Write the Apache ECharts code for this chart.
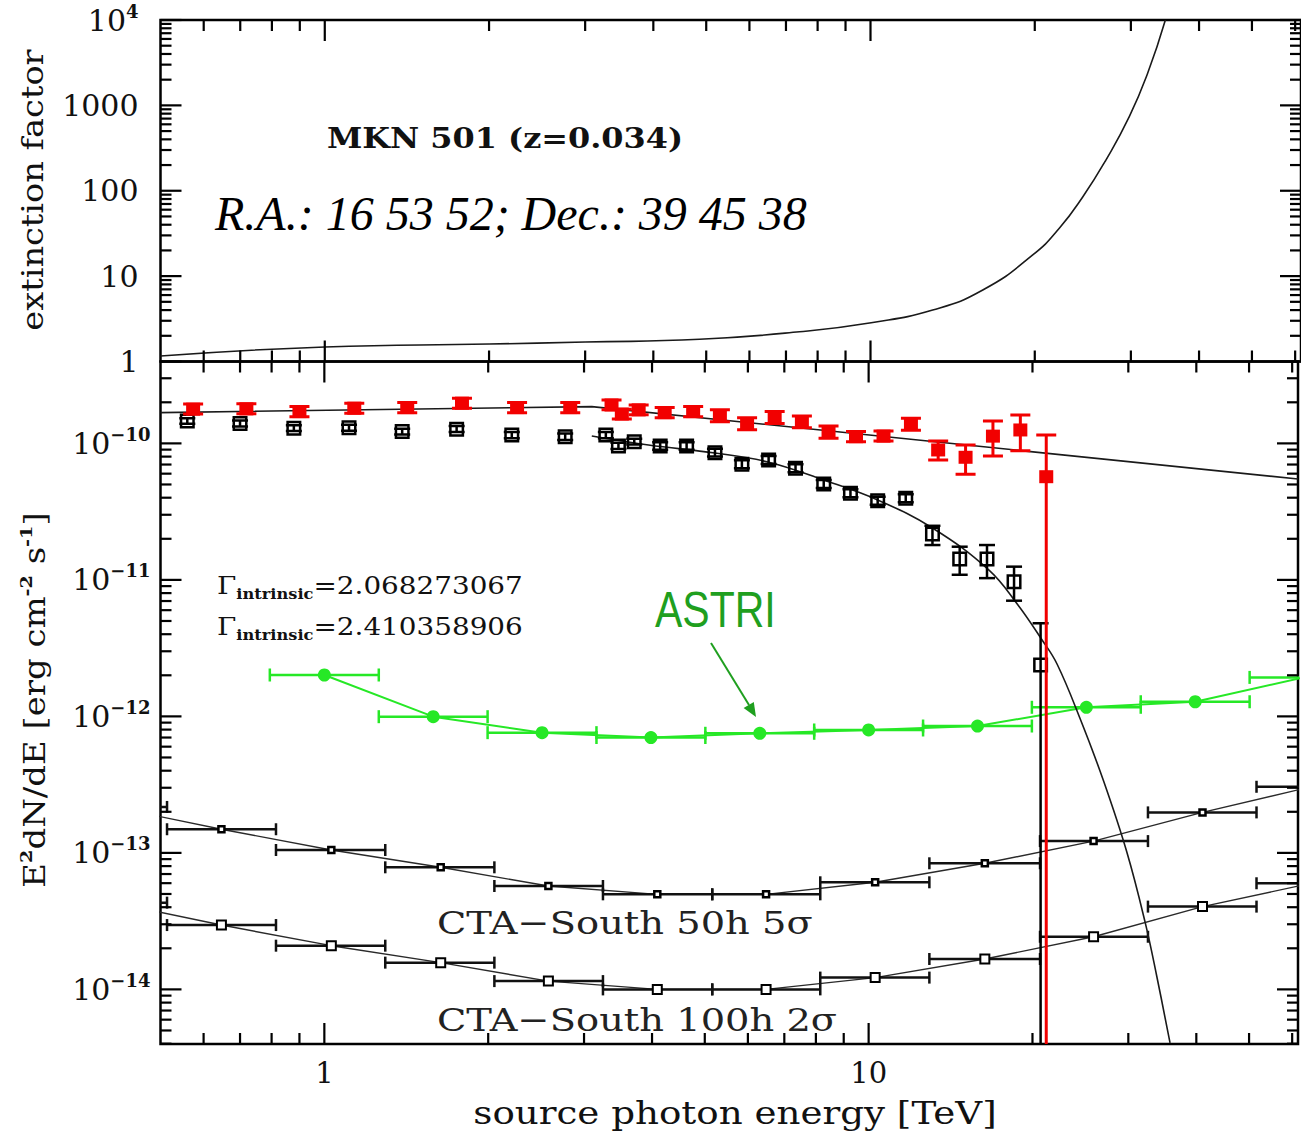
<!DOCTYPE html>
<html>
<head>
<meta charset="utf-8">
<script src="https://cdn.jsdelivr.net/npm/echarts@6/dist/echarts.min.js"></script>
<style>
  html, body { margin: 0; padding: 0; background: #fff; }
  #chart { width: 1301px; height: 1136px; }
</style>
</head>
<body>
<div id="chart"></div>
<script>
// ---------------- axis ranges and tick labels ----------------
const energyRange = [0.5, 61.5];            // TeV
const extinctionRange = [1, 1e4];
const fluxRange = [3.98e-15, 3.98e-10];     // erg cm^-2 s^-1

const energyMajor = [1, 10];
const energyLabels = ['1', '10'];
const extMajor = [1, 10, 100, 1000, 10000];
const extLabelBase = ['1', '10', '100', '1000', '10'];
const extLabelExp = ['', '', '', '', '4'];
const fluxMajor = [1e-14, 1e-13, 1e-12, 1e-11, 1e-10];
const fluxLabelBase = ['10', '10', '10', '10', '10'];
const fluxLabelExp = ['\u221214', '\u221213', '\u221212', '\u221211', '\u221210'];

// ---------------- top panel: EBL extinction factor ----------------
const extEnergy = [0.5, 1, 2, 3, 4.86, 7.41, 10.03, 13.0, 16.06, 19.83, 22.2, 24.5, 27.0, 29.8, 32.2, 34.7];
const extFactor = [1.16, 1.48, 1.60, 1.69, 1.82, 2.23, 2.85, 4.01, 6.88, 17.7, 36.6, 85.2, 229, 737, 2375, 10000];

// ---------------- intrinsic (de-absorbed) spectrum, red ----------------
const intrE  = [0.574, 0.719, 0.90, 1.135, 1.42, 1.79, 2.26, 2.83, 3.37, 3.52, 3.78, 4.22, 4.76, 5.33, 5.98, 6.72, 7.54, 8.44, 9.48, 10.65, 11.96, 13.42, 15.07, 16.92, 19.0, 21.2];
const intrF  = [1.78e-10, 1.79e-10, 1.71e-10, 1.81e-10, 1.83e-10, 1.97e-10, 1.83e-10, 1.83e-10, 1.91e-10, 1.64e-10, 1.76e-10, 1.68e-10, 1.71e-10, 1.59e-10, 1.39e-10, 1.55e-10, 1.44e-10, 1.21e-10, 1.12e-10, 1.13e-10, 1.38e-10, 8.95e-11, 7.91e-11, 1.13e-10, 1.254e-10, 5.70e-11];
const intrLo = [1.64e-10, 1.65e-10, 1.57e-10, 1.66e-10, 1.68e-10, 1.81e-10, 1.68e-10, 1.68e-10, 1.76e-10, 1.51e-10, 1.62e-10, 1.54e-10, 1.57e-10, 1.44e-10, 1.26e-10, 1.40e-10, 1.30e-10, 1.09e-10, 1.03e-10, 1.04e-10, 1.25e-10, 7.55e-11, 5.94e-11, 8.09e-11, 8.84e-11, 1e-16];
const intrHi = [1.94e-10, 1.95e-10, 1.86e-10, 1.97e-10, 1.99e-10, 2.14e-10, 1.99e-10, 1.99e-10, 2.08e-10, 1.78e-10, 1.91e-10, 1.83e-10, 1.86e-10, 1.76e-10, 1.54e-10, 1.71e-10, 1.59e-10, 1.34e-10, 1.22e-10, 1.23e-10, 1.53e-10, 1.041e-10, 9.73e-11, 1.459e-10, 1.615e-10, 1.152e-10];

// ---------------- observed spectrum, black open squares ----------------
const obsE  = [0.560, 0.70, 0.879, 1.11, 1.39, 1.75, 2.21, 2.77, 3.29, 3.47, 3.71, 4.14, 4.63, 5.22, 5.85, 6.55, 7.34, 8.27, 9.26, 10.39, 11.7, 13.1, 14.7, 16.5, 18.5, 20.7];
const obsF  = [1.46e-10, 1.40e-10, 1.29e-10, 1.30e-10, 1.22e-10, 1.27e-10, 1.15e-10, 1.12e-10, 1.15e-10, 9.57e-11, 1.03e-10, 9.57e-11, 9.57e-11, 8.55e-11, 7.03e-11, 7.55e-11, 6.57e-11, 5.04e-11, 4.31e-11, 3.80e-11, 3.96e-11, 2.17e-11, 1.42e-11, 1.42e-11, 9.70e-12, 2.38e-12];
const obsLo = [1.39e-10, 1.33e-10, 1.23e-10, 1.24e-10, 1.16e-10, 1.21e-10, 1.09e-10, 1.06e-10, 1.09e-10, 9.10e-11, 9.80e-11, 9.00e-11, 9.00e-11, 8.00e-11, 6.57e-11, 7.06e-11, 6.14e-11, 4.71e-11, 4.03e-11, 3.55e-11, 3.70e-11, 1.80e-11, 1.09e-11, 1.03e-11, 7.04e-12, 1e-16];
const obsHi = [1.53e-10, 1.47e-10, 1.36e-10, 1.37e-10, 1.28e-10, 1.34e-10, 1.21e-10, 1.18e-10, 1.21e-10, 1.01e-10, 1.08e-10, 1.02e-10, 1.02e-10, 9.15e-11, 7.52e-11, 8.08e-11, 7.03e-11, 5.39e-11, 4.61e-11, 4.07e-11, 4.24e-11, 2.49e-11, 1.75e-11, 1.80e-11, 1.25e-11, 4.81e-12];

// ---------------- spectral fits ----------------
const fitIntrE = [0.5, 3.1, 61.5];
const fitIntrF = [1.68e-10, 1.86e-10, 5.48e-11];
const fitObsE = [3.10, 3.94, 5.22, 6.53, 8.27, 10.39, 13.10, 16.64, 18.75, 20.83, 22.19, 24.48, 27.02, 29.81, 32.20, 33.83, 35.79];
const fitObsF = [1.133e-10, 9.73e-11, 8.50e-11, 7.31e-11, 5.39e-11, 3.85e-11, 2.40e-11, 1.18e-11, 6.66e-12, 3.63e-12, 2.42e-12, 9.57e-13, 3.36e-13, 1.015e-13, 3.12e-14, 1.253e-14, 4.05e-15];

// ---------------- ASTRI sensitivity ----------------
const astriE  = [1.0, 1.585, 2.512, 3.981, 6.31, 10.0, 15.85, 25.12, 39.81, 63.1];
const astriLo = [0.794, 1.259, 1.995, 3.162, 5.012, 7.943, 12.59, 19.95, 31.62, 50.12];
const astriHi = [1.259, 1.995, 3.162, 5.012, 7.943, 12.59, 19.95, 31.62, 50.12, 79.43];
const astriF  = [2.01e-12, 9.95e-13, 7.60e-13, 7.00e-13, 7.52e-13, 7.95e-13, 8.50e-13, 1.166e-12, 1.28e-12, 1.93e-12];

// ---------------- CTA-South sensitivities ----------------
const ctaE  = [0.41, 0.647, 1.03, 1.636, 2.58, 4.09, 6.48, 10.28, 16.35, 25.9, 41.06, 65.0];
const ctaLo = [0.324, 0.514, 0.815, 1.294, 2.053, 3.25, 5.16, 8.15, 12.93, 20.65, 32.6, 51.6];
const ctaHi = [0.514, 0.815, 1.294, 2.053, 3.25, 5.16, 8.15, 12.93, 20.65, 32.6, 51.6, 81.8];
const cta50F  = [2.17e-13, 1.49e-13, 1.05e-13, 7.84e-14, 5.72e-14, 4.97e-14, 4.97e-14, 6.09e-14, 8.39e-14, 1.22e-13, 1.98e-13, 3.05e-13];
const cta100F = [4.32e-14, 2.96e-14, 2.09e-14, 1.57e-14, 1.15e-14, 1.00e-14, 1.00e-14, 1.22e-14, 1.67e-14, 2.43e-14, 4.04e-14, 5.99e-14];

// ---------------- helpers ----------------
const SERIF = 'DejaVu Serif';
const RED = '#f20000';
const GREEN = '#26e826';
const DARKGREEN = '#1f9f1f';

function zip(xs, ys) { return xs.map((x, i) => [x, ys[i]]); }

function matchTick(v, ticks) {
  const lv = Math.log10(v);
  for (let i = 0; i < ticks.length; i++) {
    if (Math.abs(lv - Math.log10(ticks[i])) < 1e-6) return i;
  }
  return -1;
}

// 2..9 x 10^k tick positions strictly inside a range
function minorTicks(range) {
  const out = [];
  for (let d = Math.floor(Math.log10(range[0])); d <= Math.ceil(Math.log10(range[1])); d++) {
    for (let m = 2; m <= 9; m++) {
      const v = m * Math.pow(10, d);
      if (v > range[0] * 1.0001 && v < range[1] / 1.0001) out.push(v);
    }
  }
  return out;
}

// tick marks drawn inward on both opposite frame edges of a panel
function tickSeries(gridIdx, values, dir, len, ref) {
  return {
    type: 'custom', xAxisIndex: gridIdx, yAxisIndex: gridIdx, silent: true, clip: false, z: 20,
    data: values.map(v => dir === 'x' ? [v, ref] : [ref, v]),
    renderItem: function (params, api) {
      const cs = params.coordSys;
      const p = api.coord([api.value(0), api.value(1)]);
      const st = { stroke: '#000', lineWidth: 2.2 };
      if (dir === 'x') {
        return { type: 'group', children: [
          { type: 'line', shape: { x1: p[0], y1: cs.y, x2: p[0], y2: cs.y + len }, style: st },
          { type: 'line', shape: { x1: p[0], y1: cs.y + cs.height, x2: p[0], y2: cs.y + cs.height - len }, style: st }
        ] };
      }
      return { type: 'group', children: [
        { type: 'line', shape: { x1: cs.x, y1: p[1], x2: cs.x + len, y2: p[1] }, style: st },
        { type: 'line', shape: { x1: cs.x + cs.width, y1: p[1], x2: cs.x + cs.width - len, y2: p[1] }, style: st }
      ] };
    }
  };
}

// vertical error bars with caps
function vErrSeries(E, F, lo, hi, color, capW, lw, z) {
  return {
    type: 'custom', xAxisIndex: 1, yAxisIndex: 1, clip: true, silent: true, z: z,
    data: E.map((e, i) => [e, F[i], lo[i], hi[i]]),
    renderItem: function (params, api) {
      const x = api.coord([api.value(0), api.value(1)])[0];
      const yl = api.coord([api.value(0), api.value(2)])[1];
      const yh = api.coord([api.value(0), api.value(3)])[1];
      const st = { stroke: color, lineWidth: lw };
      return { type: 'group', children: [
        { type: 'line', shape: { x1: x, y1: yl, x2: x, y2: yh }, style: st },
        { type: 'line', shape: { x1: x - capW / 2, y1: yl, x2: x + capW / 2, y2: yl }, style: st },
        { type: 'line', shape: { x1: x - capW / 2, y1: yh, x2: x + capW / 2, y2: yh }, style: st }
      ] };
    }
  };
}

// horizontal energy-bin bars with end caps
function hBinSeries(E, F, lo, hi, color, capH, lw, z) {
  return {
    type: 'custom', xAxisIndex: 1, yAxisIndex: 1, clip: true, silent: true, z: z,
    data: E.map((e, i) => [e, F[i], lo[i], hi[i]]),
    renderItem: function (params, api) {
      const y = api.coord([api.value(0), api.value(1)])[1];
      const xl = api.coord([api.value(2), api.value(1)])[0];
      const xh = api.coord([api.value(3), api.value(1)])[0];
      const st = { stroke: color, lineWidth: lw };
      return { type: 'group', children: [
        { type: 'line', shape: { x1: xl, y1: y, x2: xh, y2: y }, style: st },
        { type: 'line', shape: { x1: xl, y1: y - capH / 2, x2: xl, y2: y + capH / 2 }, style: st },
        { type: 'line', shape: { x1: xh, y1: y - capH / 2, x2: xh, y2: y + capH / 2 }, style: st }
      ] };
    }
  };
}

function lineSeries(gridIdx, xs, ys, color, width, smooth, z) {
  return {
    type: 'line', xAxisIndex: gridIdx, yAxisIndex: gridIdx, data: zip(xs, ys),
    showSymbol: false, symbol: 'none', smooth: smooth, clip: true, silent: true, z: z,
    lineStyle: { color: color, width: width }
  };
}

function markerSeries(xs, ys, symbol, size, fill, border, borderW, z) {
  return {
    type: 'scatter', xAxisIndex: 1, yAxisIndex: 1, data: zip(xs, ys), symbol: symbol, symbolSize: size,
    clip: true, silent: true, z: z,
    itemStyle: { color: fill, borderColor: border, borderWidth: borderW, opacity: 1 }
  };
}

const hiddenAxis = {
  axisLine: { show: false }, axisTick: { show: false }, splitLine: { show: false }, minorTick: { show: false }
};

const supRich = {
  b: { fontFamily: SERIF, fontSize: 30, color: '#111', lineHeight: 36 },
  s: { fontFamily: SERIF, fontSize: 18, fontWeight: 'bold', color: '#111', verticalAlign: 'top', lineHeight: 18 }
};

function richLabel(base, exp) {
  return '{b|' + base + '}' + (exp ? '{s|' + exp + '}' : '');
}

// ---------------- chart ----------------
const chart = echarts.init(document.getElementById('chart'), null, { renderer: 'svg', width: 1301, height: 1136 });

const gammaRich = {
  g: { fontFamily: SERIF, fontSize: 24, fill: '#111', color: '#111', lineHeight: 30 },
  i: { fontFamily: SERIF, fontSize: 14, fontWeight: 'bold', fill: '#111', color: '#111', verticalAlign: 'bottom', lineHeight: 14 }
};

const option = {
  animation: false,
  backgroundColor: '#ffffff',
  grid: [
    { left: 160.5, top: 20, width: 1141, height: 341.5, show: true, borderColor: '#000', borderWidth: 2.5, backgroundColor: 'transparent' },
    { left: 160.5, top: 361.5, width: 1141, height: 682.5, show: true, borderColor: '#000', borderWidth: 2.5, backgroundColor: 'transparent' }
  ],
  xAxis: [
    Object.assign({ type: 'log', gridIndex: 0, min: energyRange[0], max: energyRange[1], axisLabel: { show: false } }, hiddenAxis),
    Object.assign({ type: 'log', gridIndex: 1, min: energyRange[0], max: energyRange[1],
      axisLabel: {
        show: true, margin: 14, fontFamily: SERIF, fontSize: 29, color: '#111',
        formatter: function (v) { const i = matchTick(v, energyMajor); return i < 0 ? '' : energyLabels[i]; }
      } }, hiddenAxis)
  ],
  yAxis: [
    Object.assign({ type: 'log', gridIndex: 0, min: extinctionRange[0], max: extinctionRange[1],
      axisLabel: {
        show: true, margin: 22, rich: supRich,
        formatter: function (v) { const i = matchTick(v, extMajor); return i < 0 ? '' : richLabel(extLabelBase[i], extLabelExp[i]); }
      } }, hiddenAxis),
    Object.assign({ type: 'log', gridIndex: 1, min: fluxRange[0], max: fluxRange[1],
      axisLabel: {
        show: true, margin: 10, rich: supRich,
        formatter: function (v) { const i = matchTick(v, fluxMajor); return i < 0 ? '' : richLabel(fluxLabelBase[i], fluxLabelExp[i]); }
      } }, hiddenAxis)
  ],
  series: [
    // frame ticks
    tickSeries(0, energyMajor, 'x', 21, 10),
    tickSeries(0, minorTicks(energyRange), 'x', 11, 10),
    tickSeries(0, extMajor, 'y', 21, 1),
    tickSeries(0, minorTicks(extinctionRange), 'y', 11, 1),
    tickSeries(1, energyMajor, 'x', 21, 1e-12),
    tickSeries(1, minorTicks(energyRange), 'x', 11, 1e-12),
    tickSeries(1, fluxMajor, 'y', 21, 1),
    tickSeries(1, minorTicks(fluxRange), 'y', 11, 1),

    // extinction factor
    lineSeries(0, extEnergy, extFactor, '#1a1a1a', 1.6, 0.5, 5),

    // CTA-South 50h 5 sigma
    lineSeries(1, ctaE, cta50F, '#2a2a2a', 1.4, false, 3),
    hBinSeries(ctaE, cta50F, ctaLo, ctaHi, '#111', 12, 2.5, 4),
    markerSeries(ctaE, cta50F, 'rect', 6, '#fff', '#000', 2.5, 6),
    // CTA-South 100h 2 sigma
    lineSeries(1, ctaE, cta100F, '#2a2a2a', 1.4, false, 3),
    hBinSeries(ctaE, cta100F, ctaLo, ctaHi, '#111', 12, 2.5, 4),
    markerSeries(ctaE, cta100F, 'rect', 9, '#fff', '#000', 2, 6),

    // ASTRI
    lineSeries(1, astriE, astriF, GREEN, 2, false, 7),
    hBinSeries(astriE, astriF, astriLo, astriHi, GREEN, 13, 2.5, 7),
    markerSeries(astriE, astriF, 'circle', 13, GREEN, GREEN, 0, 8),

    // fits
    lineSeries(1, fitIntrE, fitIntrF, '#1a1a1a', 1.6, false, 9),
    lineSeries(1, fitObsE, fitObsF, '#1a1a1a', 1.6, 0.4, 9),

    // observed points
    vErrSeries(obsE, obsF, obsLo, obsHi, '#000', 16, 2.5, 10),
    markerSeries(obsE, obsF, 'rect', 12.5, 'rgba(0,0,0,0)', '#000', 2.5, 11),

    // intrinsic points
    vErrSeries(intrE, intrF, intrLo, intrHi, RED, 20, 3, 12),
    markerSeries(intrE, intrF, 'rect', [14, 13], RED, RED, 0, 13)
  ],
  graphic: [
    { type: 'text', x: 33, y: 190, rotation: Math.PI / 2, scaleX: 1.12, z: 50,
      style: { text: 'extinction factor', fontFamily: SERIF, fontSize: 30, fill: '#111',
        align: 'center', verticalAlign: 'middle', textAlign: 'center', textVerticalAlign: 'middle' } },
    { type: 'text', x: 35, y: 700, rotation: Math.PI / 2, scaleX: 1.13, z: 50,
      style: {
        text: '{n|E}{s|2}{n|dN/dE [erg cm}{s|-2}{n| s}{s|-1}{n|]}',
        align: 'center', verticalAlign: 'middle', textAlign: 'center', textVerticalAlign: 'middle',
        rich: {
          n: { fontFamily: SERIF, fontSize: 30, fill: '#111', color: '#111', lineHeight: 36 },
          s: { fontFamily: SERIF, fontSize: 17, fontWeight: 'bold', fill: '#111', color: '#111', verticalAlign: 'top', lineHeight: 17 }
        }
      } },
    { type: 'text', x: 735, y: 1113, scaleX: 1.2, z: 50,
      style: { text: 'source photon energy [TeV]', fontFamily: SERIF, fontSize: 31, fill: '#111',
        align: 'center', verticalAlign: 'middle', textAlign: 'center', textVerticalAlign: 'middle' } },
    { type: 'text', x: 327, y: 138, scaleX: 1.14, z: 50,
      style: { text: 'MKN 501 (z=0.034)', fontFamily: SERIF, fontSize: 28, fontWeight: 'bold', fill: '#111',
        align: 'left', verticalAlign: 'middle', textAlign: 'left', textVerticalAlign: 'middle' } },
    { type: 'text', x: 215, y: 213, z: 50,
      style: { text: 'R.A.: 16 53 52; Dec.: 39 45 38', fontFamily: 'Liberation Serif', fontSize: 48, fontStyle: 'italic', fill: '#000',
        align: 'left', verticalAlign: 'middle', textAlign: 'left', textVerticalAlign: 'middle' } },
    { type: 'text', x: 217, y: 586, scaleX: 1.16, z: 50,
      style: {
        text: '{g|\u0393}{i|intrinsic}{g|=2.068273067}',
        align: 'left', verticalAlign: 'middle', textAlign: 'left', textVerticalAlign: 'middle',
        rich: gammaRich
      } },
    { type: 'text', x: 217, y: 627, scaleX: 1.16, z: 50,
      style: {
        text: '{g|\u0393}{i|intrinsic}{g|=2.410358906}',
        align: 'left', verticalAlign: 'middle', textAlign: 'left', textVerticalAlign: 'middle',
        rich: gammaRich
      } },
    { type: 'text', x: 655, y: 610, scaleX: 0.82, z: 50,
      style: { text: 'ASTRI', fontFamily: 'Liberation Sans', fontSize: 50, fill: DARKGREEN,
        align: 'left', verticalAlign: 'middle', textAlign: 'left', textVerticalAlign: 'middle' } },
    { type: 'line', z: 50, shape: { x1: 711, y1: 643, x2: 749, y2: 705 }, style: { stroke: DARKGREEN, lineWidth: 2 } },
    { type: 'polygon', z: 50, shape: { points: [[756, 717], [743.6, 708.1], [753.8, 701.9]] }, style: { fill: DARKGREEN } },
    { type: 'text', x: 437, y: 923, scaleX: 1.2, z: 50,
      style: { text: 'CTA\u2212South 50h 5\u03c3', fontFamily: SERIF, fontSize: 32, fill: '#222',
        align: 'left', verticalAlign: 'middle', textAlign: 'left', textVerticalAlign: 'middle' } },
    { type: 'text', x: 437, y: 1020, scaleX: 1.2, z: 50,
      style: { text: 'CTA\u2212South 100h 2\u03c3', fontFamily: SERIF, fontSize: 32, fill: '#222',
        align: 'left', verticalAlign: 'middle', textAlign: 'left', textVerticalAlign: 'middle' } }
  ]
};

chart.setOption(option);
</script>
</body>
</html>
